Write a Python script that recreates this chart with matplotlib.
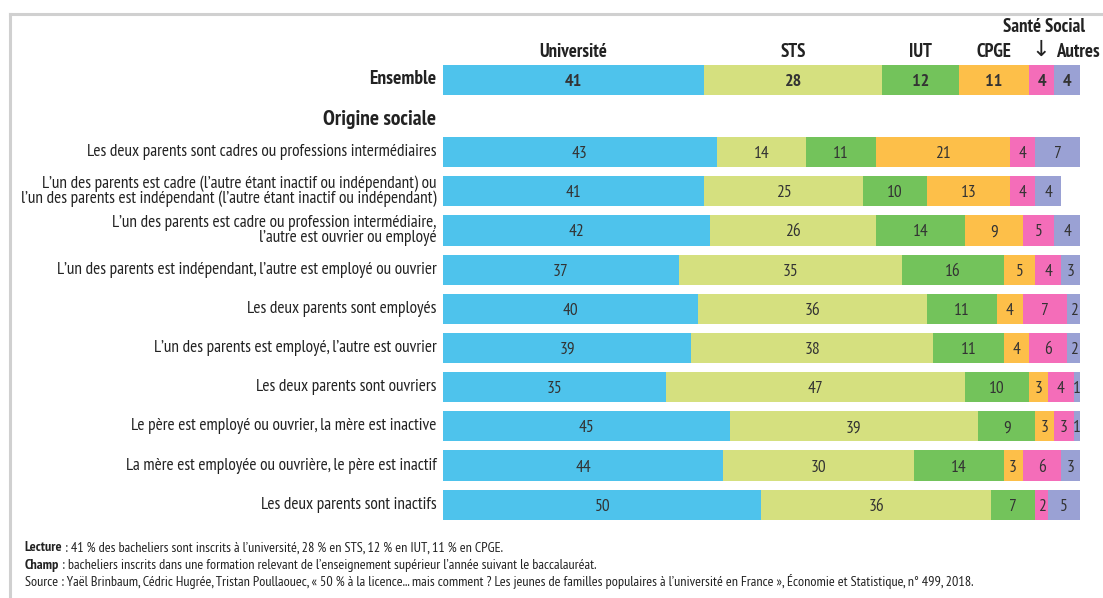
import matplotlib
matplotlib.use("Agg")
import matplotlib.pyplot as plt
import numpy as np

plt.rcParams['font.family'] = ['PT Sans Narrow', 'DejaVu Sans']

# filières
filieres = ['Université', 'STS', 'IUT', 'CPGE', 'Santé Social', 'Autres']
couleurs = ['#4ec3ec', '#d5e07f', '#73c35b', '#fdbf49', '#f46db9', '#9aa1d4']

ensemble = [41, 28, 12, 11, 4, 4]

origines = [
    "Les deux parents sont cadres ou professions intermédiaires",
    "L\u2019un des parents est cadre (l\u2019autre étant inactif ou indépendant) ou\n"
    "l\u2019un des parents est indépendant (l\u2019autre étant inactif ou indépendant)",
    "L\u2019un des parents est cadre ou profession intermédiaire,\n"
    "l\u2019autre est ouvrier ou employé",
    "L\u2019un des parents est indépendant, l\u2019autre est employé ou ouvrier",
    "Les deux parents sont employés",
    "L\u2019un des parents est employé, l\u2019autre est ouvrier",
    "Les deux parents sont ouvriers",
    "Le père est employé ou ouvrier, la mère est inactive",
    "La mère est employée ou ouvrière, le père est inactif",
    "Les deux parents sont inactifs",
]

universite = [43, 41, 42, 37, 40, 39, 35, 45, 44, 50]
sts = [14, 25, 26, 35, 36, 38, 47, 39, 30, 36]
iut = [11, 10, 14, 16, 11, 11, 10, 9, 14, 7]
cpge = [21, 13, 9, 5, 4, 4, 3, 3, 3, 0]
sante = [4, 4, 5, 4, 7, 6, 4, 3, 6, 2]
autres = [7, 4, 4, 3, 2, 2, 1, 1, 3, 5]

series = np.array([universite, sts, iut, cpge, sante, autres])

notes = [
    [('Lecture', 'bold', 'normal'),
     (' : 41 % des bacheliers sont inscrits à l\u2019université, 28 % en STS, 12 % en IUT, 11 % en CPGE.', 'normal', 'normal')],
    [('Champ', 'bold', 'normal'),
     (' : bacheliers inscrits dans une formation relevant de l\u2019enseignement supérieur l\u2019année suivant le baccalauréat.', 'normal', 'normal')],
    [('Source : Yaël Brinbaum, Cédric Hugrée, Tristan Poullaouec, « 50 % à la licence... mais comment ? '
      'Les jeunes de familles populaires à l\u2019université en France », ', 'normal', 'normal'),
     ('Économie et Statistique', 'normal', 'italic'),
     (', n° 499, 2018.', 'normal', 'normal')],
]

fig = plt.figure(figsize=(11.03, 5.98), dpi=100)

# cadre gris du document
fig.add_artist(plt.Line2D([0.0095, 1.0], [0.977, 0.977], color='#d0d0d0', lw=2.2))
fig.add_artist(plt.Line2D([0.0095, 0.0095], [0.0, 0.977], color='#d0d0d0', lw=2.2))

ax = fig.add_axes([0.4016, 0.0, 0.5775, 1.0])
ax.set_xlim(0, 100)
ax.set_ylim(11.38, -3.88)
ax.axis('off')

pos = np.arange(len(origines))
y_ens = -1.84
h = 0.77

# Ensemble
gauche = 0
for k, v in enumerate(ensemble):
    ax.barh(y_ens, v, left=gauche, height=h, color=couleurs[k])
    ax.text(gauche + v / 2, y_ens + 0.05, str(v), ha='center', va='center',
            fontsize=13, fontweight='bold', color='#333333')
    if filieres[k] == 'Santé Social':
        ax.text(gauche + v / 2 + 0.4, -3.2, filieres[k], ha='center', va='center',
                fontsize=13.5, fontweight='bold', color='#222222')
        ax.text(gauche + v / 2 - 0.2, -2.6, '\u2193', ha='center', va='center',
                fontsize=16, color='#222222', family='DejaVu Sans')
    elif filieres[k] == 'Autres':
        ax.text(gauche + 0.3, -2.55, filieres[k], ha='left', va='center',
                fontsize=13.5, fontweight='bold', color='#222222')
    else:
        ax.text(gauche + v / 2, -2.55, filieres[k], ha='center', va='center',
                fontsize=13.5, fontweight='bold', color='#222222')
    gauche += v

ax.text(-1, y_ens - 0.03, 'Ensemble', ha='right', va='center',
        fontsize=14, fontweight='bold', color='#222222')
ax.text(-1, -0.82, 'Origine sociale', ha='right', va='center',
        fontsize=15.5, fontweight='bold', color='#222222')

# Origine sociale
cumul = np.zeros(len(origines))
for k in range(len(filieres)):
    vals = series[k]
    ax.barh(pos, vals, left=cumul, height=h, color=couleurs[k])
    for i, v in enumerate(vals):
        if v > 0:
            ax.text(cumul[i] + v / 2, pos[i] + 0.05, str(v), ha='center', va='center',
                    fontsize=12.5, color='#333333')
    cumul += vals

for i, lab in enumerate(origines):
    ax.text(-1, pos[i], lab, ha='right', va='center', fontsize=12.4,
            color='#222222', linespacing=0.9)

# notes
renderer = fig.canvas.get_renderer()
for j, morceaux in enumerate(notes):
    x = 0.0225
    y = 0.078 - j * 0.029
    for txt, poids, style in morceaux:
        t = fig.text(x, y, txt, fontsize=10.2, fontweight=poids, style=style,
                     color='#222222')
        bb = t.get_window_extent(renderer)
        x += bb.width / fig.bbox.width

fig.savefig('out.png', dpi=100)
